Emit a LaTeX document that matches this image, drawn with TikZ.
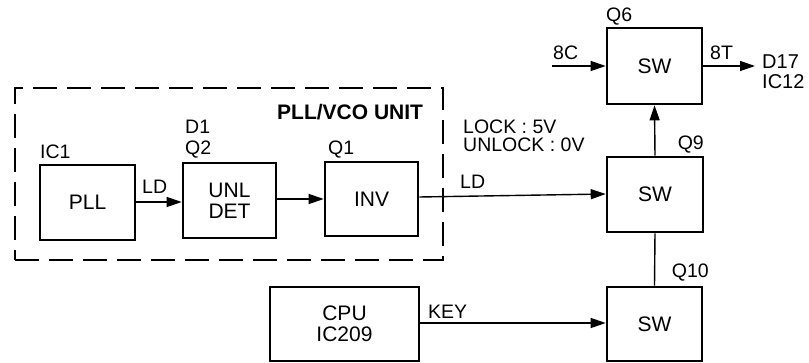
\documentclass[tikz,border=0pt]{standalone}
\usepackage{fontspec}
\setmainfont{Liberation Sans}
\usetikzlibrary{arrows.meta}
\begin{document}
\begin{tikzpicture}[x=1pt,y=-1pt,
 box/.style={draw,line width=2.6pt,inner sep=0pt,font=\fontsize{21}{21}\selectfont,align=center},
 lbl/.style={inner sep=0pt,font=\fontsize{19.5}{20}\selectfont},
 conn/.style={line width=1.4pt,-{Triangle[length=15pt,width=10pt]}},
 plain/.style={line width=1.4pt},
 unitbox/.style={draw,line width=2.8pt,dash pattern=on 24pt off 10pt}]
\useasboundingbox (0,0) rectangle (809,363);
% PLL/VCO unit frame
\node[unitbox,minimum width=428pt,minimum height=172pt,inner sep=0pt] (unit) at (229,174) {};
\node[inner sep=0pt,anchor=west,font=\fontsize{21}{21}\bfseries\selectfont] (unitlbl) at (277,112) {PLL/VCO UNIT};
% blocks
\node[box,minimum width=95pt,minimum height=75pt] (pll) at (87.5,202.5) {PLL};
\node[box,minimum width=93pt,minimum height=75pt] (unl) at (229.5,200.5) {UNL\\DET};
\node[box,minimum width=93pt,minimum height=74pt] (inv) at (371.5,199) {INV};
\node[box,minimum width=95pt,minimum height=76pt] (q6) at (654.5,66) {SW};
\node[box,minimum width=96pt,minimum height=75pt] (q9) at (655,194.5) {SW};
\node[box,minimum width=95pt,minimum height=74pt] (q10) at (654.5,324) {SW};
\node[box,minimum width=149pt,minimum height=74pt] (cpu) at (344.5,324) {CPU\\IC209};
% labels
\node[lbl,anchor=west] (ic1) at (40,152) {IC1};
\node[lbl,anchor=west] (d1) at (185,127) {D1};
\node[lbl,anchor=west] (q2) at (185,150) {Q2};
\node[lbl,anchor=west] (q1l) at (328,150) {Q1};
\node[lbl,anchor=west] (q6l) at (606,17) {Q6};
\node[lbl,anchor=east] (q9l) at (704,145) {Q9};
\node[lbl,anchor=east] (q10l) at (709,273) {Q10};
\node[lbl,anchor=west] (lock) at (463,127) {LOCK : 5V};
\node[lbl,anchor=west] (unlock) at (463,145) {UNLOCK : 0V};
\node[lbl,anchor=west] (ld1) at (142,187) {LD};
\node[lbl,anchor=west] (ld2) at (460,182) {LD};
\node[lbl,anchor=west] (key) at (428,312) {KEY};
\node[lbl,anchor=west] (c8) at (553,53) {8C};
\node[lbl,anchor=west] (t8) at (710,53) {8T};
\node[lbl,anchor=west,align=left,font=\fontsize{20}{20}\selectfont] (dest) at (762,72) {D17\\IC12};
% connectors
\coordinate (in8c) at (552,66);
\coordinate (out8t) at (755,66);
\draw[conn] (pll.east |- 0,202) -- (unl.west |- 0,202);
\draw[conn] (unl.east |- 0,199) -- (inv.west |- 0,199);
\draw[conn] (inv.east |- 0,197) -- (q9.west |- 0,194);
\draw[conn] (in8c) -- (q6.west);
\draw[conn] (q6.east) -- (out8t);
\draw[conn] (q9.north) -- (q6.south);
\draw[plain] (q9.south) -- (q10.north);
\draw[conn] (cpu.east |- 0,323) -- (q10.west |- 0,323);
\end{tikzpicture}
\end{document}
